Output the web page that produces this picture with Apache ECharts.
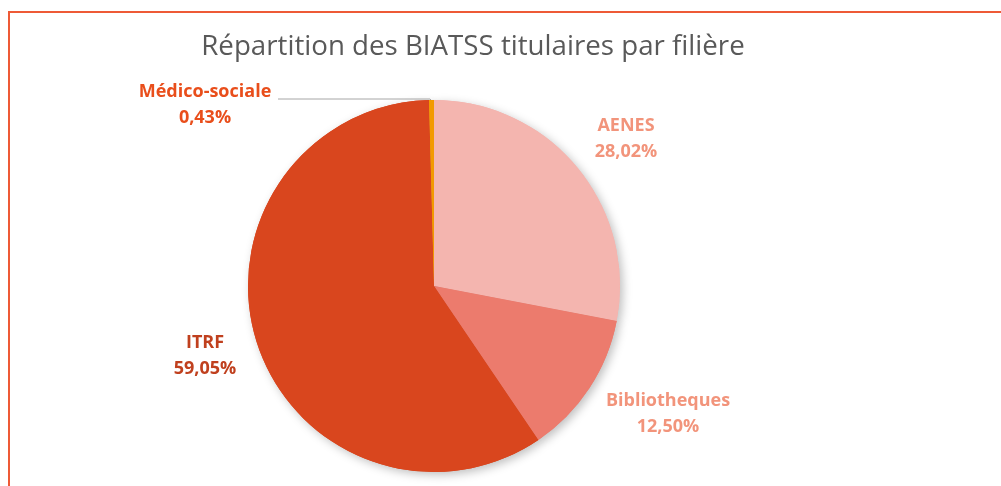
<!DOCTYPE html>
<html>
  <head>
    <meta charset="utf-8">
    <title>Répartition des BIATSS titulaires par filière</title>
    <script src="https://cdn.jsdelivr.net/npm/echarts@6/dist/echarts.min.js"></script>
    <style>
      html, body { margin: 0; padding: 0; background: #fff; }
      #chart { width: 1001px; height: 486px; }
    </style>
  </head>
  <body>
    <div id="chart"></div>
  </body>
  <script>
    // filières et parts (%)
    var filieres = ['AENES', 'Bibliotheques', 'ITRF', 'Médico-sociale'];
    var parts = [28.02, 12.50, 59.05, 0.43];
    var couleurs = ['#F4B5AF', '#EC7B6D', '#D9461E', '#F29A00'];
    var couleursLabel = ['#F2947B', '#F2947B', '#C0401E', '#E94E1B'];

    // emplacement des étiquettes (centre du texte)
    var labelPos = {
      'AENES': [626, 139],
      'Bibliotheques': [668, 414],
      'ITRF': [205, 356],
      'Médico-sociale': [205, 105]
    };

    var data = filieres.map(function (f, i) {
      return {
        name: f,
        value: parts[i],
        itemStyle: { color: couleurs[i] },
        label: { color: couleursLabel[i] }
      };
    });

    var myChart = echarts.init(document.getElementById('chart'));
    var option = {
      animation: false,
      title: {
        text: 'Répartition des BIATSS titulaires par filière',
        left: 468,
        top: 42,
        textAlign: 'center',
        textVerticalAlign: 'middle',
        textStyle: {
          fontFamily: 'Open Sans',
          fontSize: 27.7,
          fontWeight: 'normal',
          color: '#595959'
        }
      },
      graphic: [
        {
          type: 'rect',
          shape: { x: 9, y: 12, width: 1100, height: 600 },
          style: { fill: 'none', stroke: '#EE5A36', lineWidth: 2 },
          silent: true
        }
      ],
      series: [
        {
          // ombre portée sous le camembert
          type: 'pie',
          z: 1,
          silent: true,
          center: [434, 286],
          radius: 186,
          startAngle: 90,
          data: data,
          label: { show: false },
          labelLine: { show: false },
          itemStyle: {
            shadowBlur: 10,
            shadowOffsetX: 3,
            shadowOffsetY: 3,
            shadowColor: 'rgba(0,0,0,0.25)'
          }
        },
        {
          type: 'pie',
          z: 2,
          center: [434, 286],
          radius: 186,
          startAngle: 90,
          clockwise: true,
          data: data,
          label: {
            show: true,
            position: 'outside',
            formatter: function (p) {
              return p.name + '\n' + p.value.toFixed(2).replace('.', ',') + '%';
            },
            fontFamily: 'Open Sans',
            fontWeight: 'bold',
            fontSize: 18,
            lineHeight: 26,
            align: 'center'
          },
          labelLine: {
            show: true,
            lineStyle: { color: '#A6A6A6', width: 1 }
          },
          labelLayout: function (params) {
            var name = filieres[params.dataIndex];
            var pos = labelPos[name];
            var res = {
              x: pos[0],
              y: pos[1],
              align: 'center',
              verticalAlign: 'middle'
            };
            if (name === 'Médico-sociale') {
              res.labelLinePoints = [[278, 99], [430, 99], [432, 101]];
            } else {
              res.labelLinePoints = [[0, 0], [0, 0], [0, 0]];
            }
            return res;
          }
        }
      ]
    };
    myChart.setOption(option);
  </script>
</html>
